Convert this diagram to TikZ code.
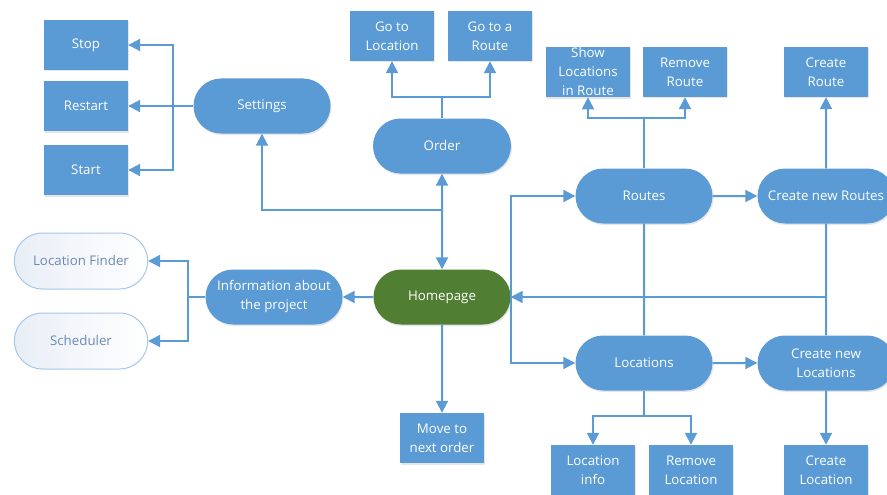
\documentclass[tikz,border=0pt]{standalone}
\usepackage{fontspec}
\setmainfont{Open Sans}
\usetikzlibrary{shapes.misc,arrows.meta,shadows}
\definecolor{boxblue}{HTML}{5B9BD5}
\definecolor{homegreen}{HTML}{507E32}
\definecolor{paleedge}{HTML}{A4C6E8}
\definecolor{paletext}{HTML}{6A8AB4}
\definecolor{palefill}{HTML}{E9EEF6}

\begin{document}
\begin{tikzpicture}[x=1pt, y=-1pt, font=\fontsize{13.3}{19}\selectfont,
   box/.style={rectangle, fill=boxblue, text=white, align=center, inner sep=1pt,
     minimum width=84pt, minimum height=50pt,
     drop shadow={opacity=.2, shadow xshift=1pt, shadow yshift=-1.5pt}},
   pill/.style={rounded rectangle, fill=boxblue, text=white, align=center, inner sep=1pt,
     minimum width=139pt, minimum height=55pt,
     drop shadow={opacity=.2, shadow xshift=1pt, shadow yshift=-1.5pt}},
   ghost/.style={rounded rectangle, draw=paleedge, line width=1pt, left color=palefill,
     right color=white, text=paletext, minimum width=140pt, minimum height=56pt},
   link/.style={draw=boxblue, line width=2pt},
   arr/.style={link, -{Triangle[length=12pt, width=12pt]}},
   twoway/.style={link, {Triangle[length=12pt, width=12pt]}-{Triangle[length=12pt, width=12pt]}}]
   \useasboundingbox (0,0) rectangle (887,495);
   \clip (0,0) rectangle (887,495);
   % settings branch
   \node[box] (stop) at (86,45) {Stop};
   \node[box] (restart) at (86,106) {Restart};
   \node[box] (start) at (86,170) {Start};
   \node[pill] (settings) at (262,106) {Settings};
   % order branch
   \node[box] (gotoloc) at (392,36) {Go to\\Location};
   \node[box] (gotoroute) at (490,36) {Go to a\\Route};
   \node[pill, minimum width=140pt] (order) at (442,146) {Order};
   % routes
   \node[box] (showlocs) at (588,72) {Show\\Locations\\in Route};
   \node[box] (removeroute) at (685,72) {Remove\\Route};
   \node[box] (createroute) at (826,72) {Create\\Route};
   \node[pill] (routes) at (644,196) {Routes};
   \node[pill] (newroutes) at (826,196) {Create new Routes};
   % middle row
   \node[pill, fill=homegreen] (home) at (442,297) {Homepage};
   \node[pill] (info) at (274,297) {Information about\\the project};
   \node[ghost] (finder) at (81,261) {Location Finder};
   \node[ghost] (sched) at (81,341) {Scheduler};
   \node[box] (move) at (442,438) {Move to\\next order};
   % locations
   \node[pill] (locs) at (644,363) {Locations};
   \node[pill] (newlocs) at (826,363) {Create new\\Locations};
   \node[box] (locinfo) at (593,470) {Location\\info};
   \node[box] (removeloc) at (691,470) {Remove\\Location};
   \node[box] (createloc) at (826,470) {Create\\Location};

   \coordinate (setj) at (173,106);
   \coordinate (ordj) at (442,97);
   \coordinate (homej) at (442,210);
   \coordinate (infoj) at (188,297);
   \coordinate (routej) at (644,118);
   \coordinate (locj) at (644,416);
   \coordinate (backj) at (826,297);

   \draw[arr] (settings) -- (restart);
   \draw[arr] (setj) |- (stop);
   \draw[arr] (setj) |- (start);
   \draw[link] (order) -- (ordj);
   \draw[arr] (ordj) -| (gotoloc);
   \draw[arr] (ordj) -| (gotoroute);
   \draw[twoway] (home) -- (order);
   \draw[arr] (homej) -| (settings);
   \draw[arr] (home) -- (move);
   \draw[arr] (home) -- (info);
   \draw[link] (info) -- (infoj);
   \draw[arr] (infoj) |- (finder);
   \draw[arr] (infoj) |- (sched);
   \draw[arr] (home.east) |- (routes);
   \draw[arr] (home.east) |- (locs);
   \draw[link] (routes) -- (routej);
   \draw[arr] (routej) -| (showlocs);
   \draw[arr] (routej) -| (removeroute);
   \draw[link] (routes) -- (locs);
   \draw[arr] (routes) -- (newroutes);
   \draw[arr] (newroutes) -- (createroute);
   \draw[link] (newroutes) -- (newlocs);
   \draw[arr] (backj) -- (home.east);
   \draw[arr] (locs) -- (newlocs);
   \draw[link] (locs) -- (locj);
   \draw[arr] (locj) -| (locinfo);
   \draw[arr] (locj) -| (removeloc);
   \draw[arr] (newlocs) -- (createloc);
\end{tikzpicture}
\end{document}
